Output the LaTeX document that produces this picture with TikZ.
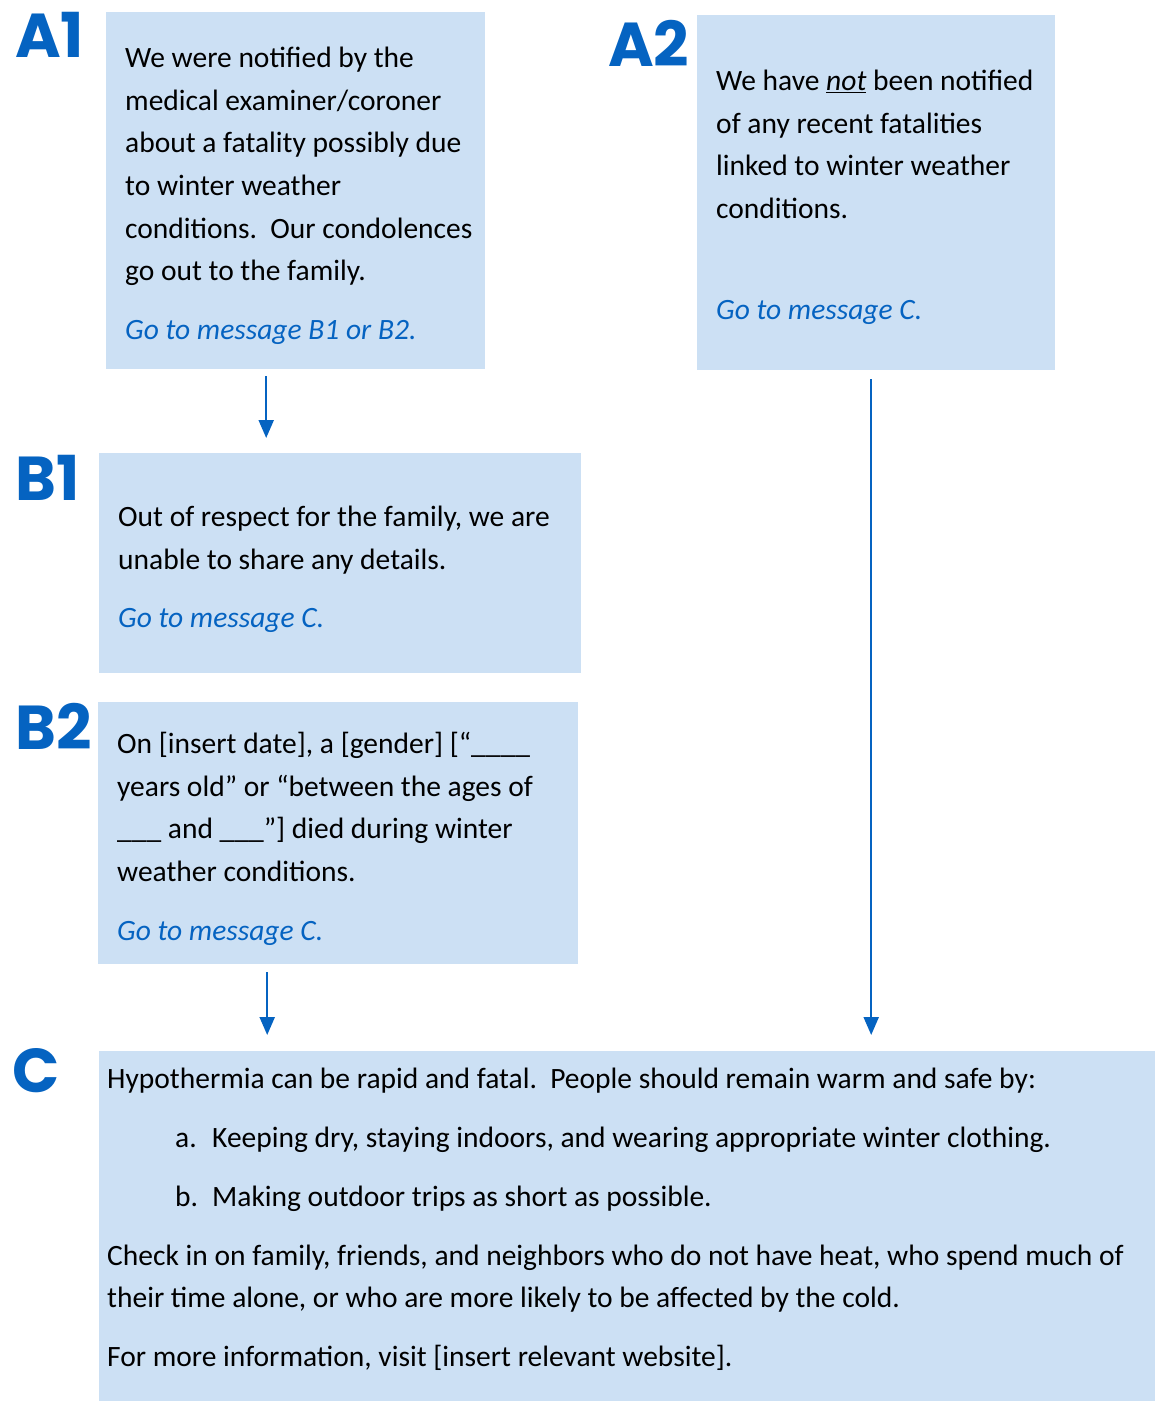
\documentclass[tikz,border=0pt]{standalone}
\usepackage{fontspec}
\setmainfont{Carlito}
\newfontfamily\tagfont{Poppins}
\usetikzlibrary{positioning,arrows.meta}
\definecolor{msgblue}{HTML}{0563C1}
\definecolor{boxfill}{HTML}{CCE0F4}
\newcommand{\goto}[1]{\textcolor{msgblue}{\itshape Go to message #1.}}

\begin{document}
\begin{tikzpicture}[x=1pt, y=1pt,
  >={Triangle[width=15pt,length=18pt]},
  msgbox/.style={fill=boxfill, inner sep=0pt, anchor=north west},
  msgtext/.style={anchor=north west, inner sep=0pt, align=left,
                  font=\fontsize{29.5}{42.6}\selectfont},
  tag/.style={anchor=north west, inner sep=0pt, text=msgblue,
              font=\tagfont\bfseries\fontsize{62}{62}\selectfont},
  arr/.style={->, line width=2.2pt, draw=msgblue, fill=msgblue},
]
\useasboundingbox (0,0) rectangle (1157,-1401);

% boxes
\node[msgbox, minimum width=379, minimum height=357] (a1) at (106,-12) {};
\node[msgbox, minimum width=358, minimum height=355] (a2) at (697,-15) {};
\node[msgbox, minimum width=482, minimum height=220] (b1) at (99,-453) {};
\node[msgbox, minimum width=480, minimum height=262] (b2) at (98,-702) {};
\node[msgbox, minimum width=1056, minimum height=350] (c) at (99,-1051) {};

% tags
\node[tag] (a1tag) at (15,-12)   {A1};
\node[tag] (a2tag) at (608,-20)  {A2};
\node[tag] (b1tag) at (15,-455)  {B1};
\node[tag] (b2tag) at (15,-703)  {B2};
\node[tag] (ctag)  at (12,-1048) {C};

% texts
\node[msgtext] (a1txt) at (125,-47) {We were notified by the\\
  medical examiner/coroner\\
  about a fatality possibly due\\
  to winter weather\\
  conditions.\ \ Our condolences\\
  go out to the family.\\[16.4pt]
  \goto{B1 or B2}};
\node[msgtext] (a2txt) at (716,-70) {We have \underline{\textit{not}} been notified\\
  of any recent fatalities\\
  linked to winter weather\\
  conditions.\\[58.4pt]
  \goto{C}};
\node[msgtext] (b1txt) at (118,-506) {Out of respect for the family, we are\\
  unable to share any details.\\[15.4pt]
  \goto{C}};
\node[msgtext] (b2txt) at (117,-732) {On [insert date], a [gender] [“\_\_\_\_\\
  years old” or “between the ages of\\
  \_\_\_ and \_\_\_”] died during winter\\
  weather conditions.\\[16.4pt]
  \goto{C}};
\node[msgtext] (ctxt) at (107,-1068) {Hypothermia can be rapid and fatal.\ \ People should remain warm and safe by:\\[16.4pt]
  \hspace*{68pt}\makebox[37pt][l]{a.}Keeping dry, staying indoors, and wearing appropriate winter clothing.\\[16.4pt]
  \hspace*{68pt}\makebox[37pt][l]{b.}Making outdoor trips as short as possible.\\[16pt]
  Check in on family, friends, and neighbors who do not have heat, who spend much of\\
  their time alone, or who are more likely to be affected by the cold.\\[16.4pt]
  For more information, visit [insert relevant website].};

% arrows
\draw[arr, shorten <=7pt, shorten >=15pt] ([xshift=-29.5pt]a1.south) -- ([xshift=-29.5pt]a1.south |- b1.north);
\draw[arr, shorten <=8pt, shorten >=16pt] ([xshift=-71pt]b2.south) -- ([xshift=-71pt]b2.south |- c.north);
\draw[arr, shorten <=9pt, shorten >=16pt] ([xshift=-5pt]a2.south) -- ([xshift=-5pt]a2.south |- c.north);
\end{tikzpicture}
\end{document}
